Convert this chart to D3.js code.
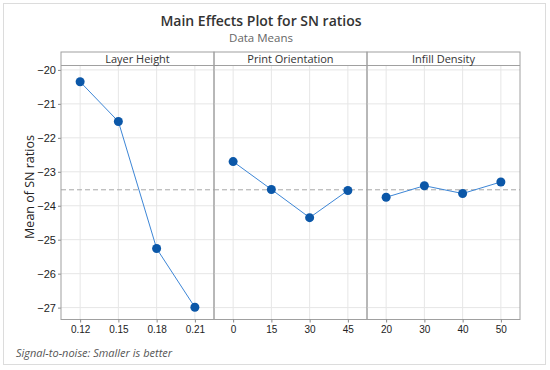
<!DOCTYPE html>
<html>
<head>
<meta charset="utf-8">
<script src="https://cdn.jsdelivr.net/npm/d3@7"></script>
<style>
  body { margin: 0; background: #fff; }
  svg { font-family: "Open Sans", "Noto Sans", sans-serif; }
</style>
</head>
<body>
<svg id="chart" width="550" height="370"></svg>
<script>
// factors and their levels
const factors = ['Layer Height', 'Print Orientation', 'Infill Density'];
const layerLevels = ['0.12', '0.15', '0.18', '0.21'];
const orientLevels = ['0', '15', '30', '45'];
const infillLevels = ['20', '30', '40', '50'];

// mean SN ratios
const layerSN = [-20.35, -21.52, -25.26, -26.99];
const orientSN = [-22.70, -23.52, -24.35, -23.55];
const infillSN = [-23.75, -23.41, -23.64, -23.30];

const yTicks = [-20, -21, -22, -23, -24, -25, -26, -27];

const panels = [
  { name: factors[0], levels: layerLevels, values: layerSN },
  { name: factors[1], levels: orientLevels, values: orientSN },
  { name: factors[2], levels: infillLevels, values: infillSN }
];

const svg = d3.select('#chart');
const plotLeft = 61, plotRight = 520, plotTop = 52, stripH = 13.5, plotBottom = 319.5;
const panelW = (plotRight - plotLeft) / panels.length;

// outer frame
svg.append('rect')
  .attr('x', 3.5).attr('y', 3.5).attr('width', 542).attr('height', 361)
  .attr('fill', 'none').attr('stroke', '#dcdcdc');

// titles
svg.append('text').attr('x', 261).attr('y', 26)
  .attr('text-anchor', 'middle').attr('font-size', 14).attr('font-weight', 600)
  .attr('fill', '#333').text('Main Effects Plot for SN ratios');
svg.append('text').attr('x', 261).attr('y', 42)
  .attr('text-anchor', 'middle').attr('font-size', 11.5)
  .attr('fill', '#666').text('Data Means');

const grand = d3.mean(layerSN);

const y = d3.scaleLinear()
  .domain([-27.35, -19.87])
  .range([plotBottom, plotTop + stripH]);

// y axis
const yAxis = svg.append('g')
  .attr('transform', `translate(${plotLeft},0)`)
  .call(d3.axisLeft(y).tickValues(yTicks).tickSize(3).tickFormat(d => '\u2212' + Math.abs(d)));
yAxis.select('.domain').remove();
yAxis.selectAll('line').attr('stroke', '#888');
yAxis.selectAll('text').attr('font-size', 11).attr('fill', '#222').attr('x', -5);

svg.append('text')
  .attr('transform', `translate(34,187) rotate(-90)`)
  .attr('text-anchor', 'middle').attr('font-size', 12.5).attr('fill', '#222')
  .text('Mean of SN ratios');

panels.forEach((p, i) => {
  const x0 = plotLeft + i * panelW;
  const x = d3.scalePoint().domain(p.levels).range([x0, x0 + panelW]).padding(0.5);
  const g = svg.append('g');

  // gridlines
  g.selectAll('.hg').data(yTicks).join('line')
    .attr('x1', x0).attr('x2', x0 + panelW)
    .attr('y1', d => y(d)).attr('y2', d => y(d))
    .attr('stroke', '#e6e6e6');
  g.selectAll('.vg').data(p.levels).join('line')
    .attr('x1', d => x(d)).attr('x2', d => x(d))
    .attr('y1', plotTop + stripH).attr('y2', plotBottom)
    .attr('stroke', '#e6e6e6');

  // mean reference line
  g.append('line')
    .attr('x1', x0).attr('x2', x0 + panelW)
    .attr('y1', y(grand)).attr('y2', y(grand))
    .attr('stroke', '#a8a8a8').attr('stroke-dasharray', '5,3');

  // x axis
  const xa = svg.append('g')
    .attr('transform', `translate(0,${plotBottom})`)
    .call(d3.axisBottom(x).tickSize(3));
  xa.select('.domain').remove();
  xa.selectAll('line').attr('stroke', '#888');
  xa.selectAll('text').attr('font-size', 10).attr('fill', '#222').attr('y', 6);

  // data line + points
  const pts = p.levels.map((l, k) => ({ l, v: p.values[k] }));
  g.append('path').datum(pts)
    .attr('fill', 'none').attr('stroke', '#3d86d6').attr('stroke-width', 1)
    .attr('d', d3.line().x(d => x(d.l)).y(d => y(d.v)));
  g.selectAll('circle').data(pts).join('circle')
    .attr('cx', d => x(d.l)).attr('cy', d => y(d.v)).attr('r', 4.5)
    .attr('fill', '#0b57a8');

  // panel border + strip
  g.append('rect')
    .attr('x', x0).attr('y', plotTop).attr('width', panelW).attr('height', plotBottom - plotTop)
    .attr('fill', 'none').attr('stroke', '#a0a0a0');
  g.append('line')
    .attr('x1', x0).attr('x2', x0 + panelW)
    .attr('y1', plotTop + stripH).attr('y2', plotTop + stripH)
    .attr('stroke', '#a0a0a0');
  g.append('text')
    .attr('x', x0 + panelW / 2).attr('y', plotTop + 11)
    .attr('text-anchor', 'middle').attr('font-size', 11).attr('fill', '#333')
    .text(p.name);
});

svg.append('text').attr('x', 16).attr('y', 357)
  .attr('font-size', 11).attr('font-style', 'italic').attr('fill', '#555')
  .text('Signal-to-noise: Smaller is better');
</script>
</body>
</html>
